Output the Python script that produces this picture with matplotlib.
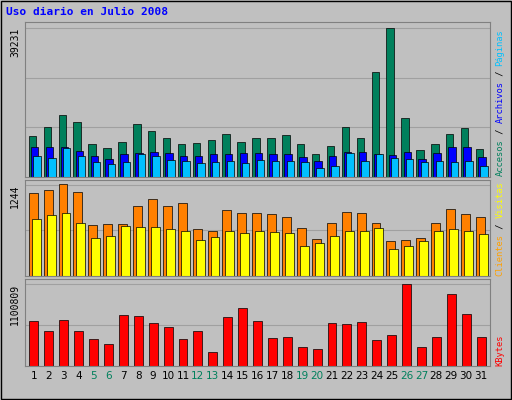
import matplotlib.pyplot as plt
import numpy as np

days = list(range(1, 32))
weekend = {5, 6, 12, 13, 19, 20, 26, 27}

hits_y = [135, 126, 114, 121, 143, 147, 141, 123, 130, 137, 143, 142, 139, 133, 141, 137,
          137, 134, 143, 153, 145, 126, 137, 72, 28, 117, 149, 143, 133, 127, 148]
files_y = [146, 146, 146, 150, 155, 158, 153, 152, 151, 152, 155, 155, 153, 153, 152, 152,
           153, 153, 156, 160, 155, 151, 151, 153, 154, 151, 158, 152, 146, 146, 156]
pages_y = [155, 157, 147, 155, 161, 163, 161, 153, 155, 159, 160, 162, 161, 160, 162, 159,
           160, 160, 161, 167, 165, 152, 160, 153, 157, 158, 161, 160, 161, 160, 165]
visits_y = [192, 189, 183, 191, 224, 223, 223, 205, 198, 205, 202, 228, 230, 209, 212, 212,
            213, 216, 227, 238, 222, 211, 212, 222, 240, 239, 237, 222, 208, 213, 216]
sites_y = [218, 214, 212, 222, 237, 235, 225, 226, 226, 228, 230, 239, 236, 230, 232, 230,
           231, 232, 245, 242, 235, 230, 230, 227, 248, 245, 240, 230, 228, 230, 233]
kb_y = [321, 330, 320, 330, 338, 343, 315, 316, 323, 327, 338, 330, 351, 317, 308, 321,
        337, 336, 346, 348, 323, 324, 322, 339, 334, 284, 346, 336, 294, 314, 336]

# pixel readings converted to values
hits = [round((176 - v) * 39231 / 148) for v in hits_y]
files = [round((176 - v) * 39231 / 148) for v in files_y]
pages = [round((176 - v) * 39231 / 148) for v in pages_y]
visits = [round((275 - v) * 1244 / 91) for v in visits_y]
sites = [round((275 - v) * 1244 / 91) for v in sites_y]
kbytes = [round((365 - v) * 1100809 / 81) for v in kb_y]

BG = '#c0c0c0'
fig = plt.figure(figsize=(5.12, 4.0), dpi=100, facecolor=BG)
W, H = 512, 400


def panel(top, bottom):
    ax = fig.add_axes([25 / W, 1 - bottom / H, 465 / W, (bottom - top) / H])
    ax.set_facecolor(BG)
    ax.set_xlim(0.4, 31.6)
    for s in ax.spines.values():
        s.set_color('#808080')
    ax.tick_params(length=0)
    return ax


def ylabel(ax, val, text):
    ax.set_yticks([val], [text], rotation=90, va='top', fontsize=7, family='DejaVu Sans Mono')


x = np.array(days)
ax1 = panel(22, 177)
ax1.set_ylim(0, 39231 * 1.04)
for g in [1 / 3, 2 / 3, 1]:
    ax1.axhline(39231 * g, color='#a0a0a0', lw=0.8, zorder=0)
ax1.bar(x - 0.1, hits, 0.5, color='#00805c', edgecolor='black', lw=0.5)
ax1.bar(x + 0.05, files, 0.5, color='#0000ff', edgecolor='black', lw=0.5)
ax1.bar(x + 0.2, pages, 0.5, color='#00c0ff', edgecolor='black', lw=0.5)
ylabel(ax1, 39231, '39231')
ax1.set_xticks([])

ax2 = panel(180, 276)
ax2.set_ylim(0, 1244 * 1.05)
for g in [0.5, 1]:
    ax2.axhline(1244 * g, color='#a0a0a0', lw=0.8, zorder=0)
ax2.bar(x - 0.05, visits, 0.6, color='#ff8000', edgecolor='black', lw=0.5)
ax2.bar(x + 0.15, sites, 0.6, color='#ffff00', edgecolor='black', lw=0.5, zorder=1)
ylabel(ax2, 1244, '1244')
ax2.set_xticks([])

ax3 = panel(279, 366)
ax3.set_ylim(0, 1100809 * 1.06)
for g in [0.5, 1]:
    ax3.axhline(1100809 * g, color='#a0a0a0', lw=0.8, zorder=0)
ax3.bar(x, kbytes, 0.6, color='#ff0000', edgecolor='black', lw=0.5)
ylabel(ax3, 1100809, '1100809')
ax3.set_xticks(days, [str(d) for d in days], fontsize=7.5)
for lbl, d in zip(ax3.get_xticklabels(), days):
    lbl.set_color('#00805c' if d in weekend else 'black')

fig.text(6 / W, 1 - 12 / H, 'Uso diario en Julio 2008', color='#0000ff', fontsize=8,
         fontweight='bold', family='DejaVu Sans Mono', va='center')


def side_label(parts, y_bottom, size=6.3):
    step = size * 0.6 * 1.39 / H  # character advance in figure units
    y = y_bottom / H
    for txt, col in parts:
        fig.text(500 / W, y, txt, color=col, rotation=90, fontsize=size,
                 family='DejaVu Sans Mono', ha='center', va='bottom')
        y += len(txt) * step


side_label([('Accesos', '#00805c'), (' / ', 'black'), ('Archivos', '#0000ff'),
            (' / ', 'black'), ('Páginas', '#00c0ff')], 400 - 176)
side_label([('Clientes', '#ffa000'), (' / ', 'black'), ('Visitas', '#ffff00')], 400 - 276)
side_label([('KBytes', '#ff0000')], 400 - 366)

fig.add_artist(plt.Rectangle((1 / W, 1 / H), 1 - 2 / W, 1 - 2 / H, fill=False,
                             ec='black', lw=1, transform=fig.transFigure))
fig.savefig('out.png', dpi=100, facecolor=BG)
